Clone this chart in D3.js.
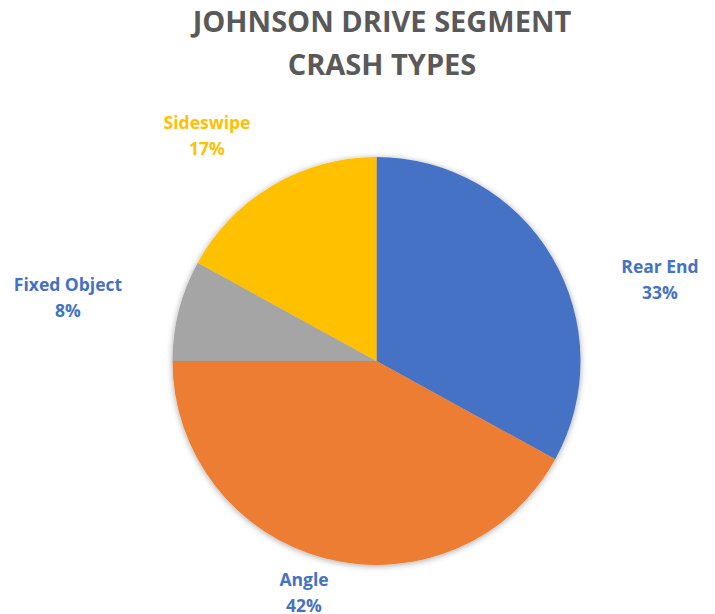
<!DOCTYPE html>
<html>
<head>
<meta charset="utf-8">
<script src="https://cdn.jsdelivr.net/npm/d3@7"></script>
<style>
  body { margin: 0; background: #fff; }
  text { font-family: "Open Sans", "Liberation Sans", sans-serif; font-weight: bold; }
</style>
</head>
<body>
<script>
// chart data
var categories = ["Rear End", "Angle", "Fixed Object", "Sideswipe"];
var shares = [33, 42, 8, 17];
var sliceColors = ["#4472C4", "#ED7D31", "#A5A5A5", "#FFC000"];
var labelColors = ["#4472C4", "#4472C4", "#4472C4", "#FFC000"];
var titleLines = ["JOHNSON DRIVE SEGMENT", "CRASH TYPES"];

var width = 715, height = 614,
    cx = 376.5, cy = 361, radius = 204;

// label anchor points (centre of the two-line label)
var labelPos = [[660, 280], [304, 593], [68, 298], [207, 136]];

var data = categories.map(function(c, i) {
  return { name: c, value: shares[i], color: sliceColors[i], labelColor: labelColors[i] };
});

var svg = d3.select("body").append("svg")
    .attr("width", width)
    .attr("height", height);

var defs = svg.append("defs");
var filter = defs.append("filter")
    .attr("id", "shadow")
    .attr("x", "-10%").attr("y", "-10%")
    .attr("width", "120%").attr("height", "120%");
filter.append("feDropShadow")
    .attr("dx", 0).attr("dy", 1)
    .attr("stdDeviation", 3)
    .attr("flood-color", "#000")
    .attr("flood-opacity", 0.35);

// title
svg.selectAll(".title")
    .data(titleLines)
    .enter().append("text")
    .attr("class", "title")
    .attr("x", 382)
    .attr("y", function(d, i) { return 32 + i * 43; })
    .attr("text-anchor", "middle")
    .attr("fill", "#595959")
    .style("font-size", "29px")
    .text(function(d) { return d; });

var pie = d3.pie()
    .sort(null)
    .value(function(d) { return d.value; });

var arc = d3.arc()
    .innerRadius(0)
    .outerRadius(radius);

var g = svg.append("g")
    .attr("transform", "translate(" + cx + "," + cy + ")")
    .attr("filter", "url(#shadow)");

g.selectAll(".slice")
    .data(pie(data))
    .enter().append("path")
    .attr("class", "slice")
    .attr("d", arc)
    .attr("fill", function(d) { return d.data.color; });

// data labels
var labels = svg.selectAll(".label")
    .data(data)
    .enter().append("text")
    .attr("class", "label")
    .attr("text-anchor", "middle")
    .attr("fill", function(d) { return d.labelColor; })
    .style("font-size", "17.5px");

labels.append("tspan")
    .attr("x", function(d, i) { return labelPos[i][0]; })
    .attr("y", function(d, i) { return labelPos[i][1] - 7; })
    .text(function(d) { return d.name; });

labels.append("tspan")
    .attr("x", function(d, i) { return labelPos[i][0]; })
    .attr("y", function(d, i) { return labelPos[i][1] + 19; })
    .text(function(d) { return d.value + "%"; });
</script>
</body>
</html>
